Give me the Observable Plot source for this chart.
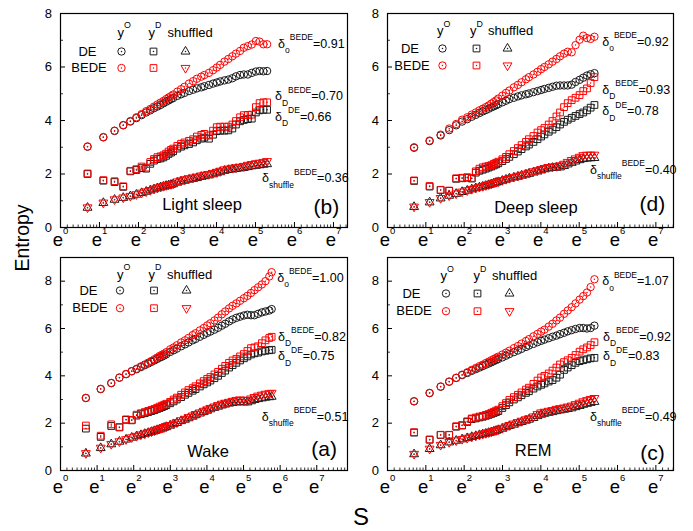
<!DOCTYPE html>
<html><head><meta charset="utf-8">
<script src="https://cdn.jsdelivr.net/npm/d3@7"></script>
<script src="https://cdn.jsdelivr.net/npm/@observablehq/plot@0.6"></script>
<style>
body{margin:0;background:#fff;font-family:"Liberation Sans",Arial,sans-serif;}
#wrap{position:relative;width:693px;height:531px;overflow:hidden;background:#fff;}
#wrap svg{position:absolute;max-width:none;}
.lab{position:absolute;color:#000;white-space:nowrap;line-height:1;}
</style></head><body><div id="wrap"></div>
<script>
// scale s values shared by all panels
const sValues = [2,3,4,5,6,7,8,9,10,11,12,13,14,15,16,17,18,20,22,24,27,30,33,37,40,45,50,55,60,67,74,82,90,100,110,122,135,150,165,182,200,221,245,270,300,320];

// (b) Light sleep
const lightOrigDE   = [3.02,3.37,3.61,3.82,3.96,4.09,4.20,4.30,4.38,4.46,4.52,4.58,4.64,4.70,4.75,4.80,4.84,4.92,4.98,5.03,5.10,5.15,5.20,5.24,5.28,5.33,5.38,5.42,5.46,5.50,5.53,5.58,5.65,5.70,5.72,5.72,5.78,5.83,5.85,5.84,5.85];
const lightOrigBEDE = [3.03,3.38,3.62,3.83,3.98,4.12,4.24,4.35,4.43,4.52,4.60,4.67,4.73,4.80,4.86,4.91,4.97,5.08,5.17,5.26,5.38,5.47,5.56,5.64,5.70,5.78,5.88,5.98,6.08,6.20,6.30,6.40,6.50,6.60,6.72,6.78,6.84,6.97,6.95,6.85,6.85];
const lightDistDE   = [2.00,1.75,1.70,1.52,2.10,2.15,2.22,2.20,2.38,2.50,2.56,2.58,2.62,2.68,2.75,2.80,2.85,2.95,3.02,3.07,3.12,3.18,3.26,3.32,3.36,3.32,3.47,3.60,3.62,3.62,3.63,3.70,3.85,3.97,4.02,4.05,4.07,4.30,4.38,4.40,4.40];
const lightDistBEDE = [2.02,1.77,1.73,1.54,2.12,2.18,2.28,2.24,2.45,2.56,2.63,2.66,2.70,2.76,2.84,2.90,2.95,3.05,3.13,3.18,3.24,3.30,3.40,3.46,3.50,3.44,3.62,3.75,3.77,3.77,3.77,3.85,3.98,4.12,4.20,4.21,4.22,4.50,4.65,4.68,4.68];
const lightShufDE   = [0.74,0.92,1.04,1.11,1.17,1.23,1.29,1.34,1.39,1.43,1.47,1.50,1.53,1.56,1.58,1.60,1.62,1.68,1.72,1.75,1.79,1.82,1.85,1.89,1.92,1.95,1.99,2.03,2.07,2.12,2.15,2.17,2.19,2.21,2.23,2.26,2.29,2.31,2.33,2.35,2.37];
const lightShufBEDE = [0.75,0.93,1.05,1.12,1.18,1.24,1.30,1.35,1.40,1.45,1.49,1.52,1.55,1.58,1.60,1.62,1.64,1.72,1.76,1.80,1.84,1.87,1.90,1.94,1.97,2.00,2.04,2.08,2.12,2.17,2.20,2.23,2.25,2.27,2.30,2.34,2.37,2.40,2.42,2.45,2.48];

// (d) Deep sleep
const deepOrigDE   = [2.98,3.23,3.44,3.64,3.82,3.96,4.05,4.14,4.21,4.28,4.34,4.39,4.44,4.49,4.53,4.57,4.61,4.68,4.74,4.80,4.85,4.90,4.94,4.98,5.01,5.06,5.10,5.14,5.18,5.22,5.26,5.30,5.31,5.31,5.31,5.34,5.44,5.52,5.60,5.68,5.73,5.77];
const deepOrigBEDE = [3.00,3.25,3.47,3.70,3.87,4.03,4.12,4.22,4.30,4.38,4.44,4.50,4.56,4.63,4.69,4.75,4.82,4.93,5.03,5.12,5.24,5.33,5.43,5.54,5.62,5.72,5.82,5.92,6.00,6.10,6.20,6.30,6.40,6.50,6.57,6.55,6.82,7.02,7.17,7.08,7.05,7.13];
const deepDistDE   = [1.74,1.53,1.40,1.37,1.82,1.84,1.86,1.83,2.05,2.12,2.16,2.20,2.24,2.28,2.32,2.36,2.40,2.48,2.56,2.64,2.74,2.84,2.93,3.03,3.10,3.20,3.30,3.40,3.48,3.58,3.66,3.75,3.85,3.95,4.03,4.10,4.17,4.24,4.30,4.38,4.48,4.58];
const deepDistBEDE = [1.76,1.55,1.41,1.38,1.84,1.86,1.88,1.85,2.10,2.20,2.25,2.28,2.30,2.33,2.38,2.42,2.46,2.55,2.64,2.74,2.86,2.97,3.08,3.20,3.30,3.42,3.55,3.64,3.72,3.85,3.98,4.15,4.30,4.50,4.65,4.76,4.85,4.95,5.10,5.20,5.40,5.62];
const deepShufDE   = [0.77,0.94,1.09,1.19,1.26,1.33,1.38,1.43,1.47,1.50,1.53,1.56,1.59,1.62,1.65,1.68,1.70,1.75,1.79,1.83,1.87,1.90,1.94,1.98,2.01,2.06,2.10,2.14,2.18,2.21,2.23,2.24,2.25,2.30,2.36,2.42,2.47,2.52,2.56,2.58,2.59,2.60];
const deepShufBEDE = [0.78,0.95,1.10,1.20,1.27,1.34,1.39,1.44,1.48,1.52,1.55,1.58,1.61,1.64,1.67,1.70,1.72,1.77,1.81,1.85,1.89,1.93,1.97,2.01,2.05,2.10,2.14,2.18,2.22,2.26,2.28,2.30,2.32,2.38,2.45,2.52,2.58,2.64,2.70,2.72,2.72,2.72];

// (a) Wake
const wakeOrigDE   = [3.06,3.44,3.69,3.92,4.07,4.19,4.28,4.37,4.45,4.52,4.59,4.65,4.71,4.77,4.81,4.86,4.91,5.01,5.08,5.15,5.25,5.33,5.41,5.50,5.56,5.65,5.73,5.81,5.87,5.95,6.03,6.12,6.20,6.30,6.38,6.45,6.50,6.55,6.58,6.56,6.56,6.62,6.68,6.72,6.76,6.82];
const wakeOrigBEDE = [3.07,3.45,3.70,3.93,4.08,4.20,4.30,4.40,4.48,4.56,4.63,4.70,4.77,4.84,4.89,4.94,5.00,5.12,5.20,5.29,5.41,5.50,5.60,5.72,5.80,5.92,6.02,6.13,6.22,6.34,6.46,6.60,6.72,6.85,6.96,7.06,7.17,7.28,7.38,7.50,7.62,7.74,7.86,8.00,8.20,8.38];
const wakeDistDE   = [1.77,1.42,1.88,1.82,2.14,2.12,2.32,2.38,2.42,2.47,2.51,2.55,2.60,2.64,2.68,2.72,2.76,2.84,2.92,3.00,3.10,3.20,3.28,3.37,3.44,3.55,3.64,3.72,3.80,3.90,4.00,4.12,4.22,4.35,4.45,4.55,4.65,4.74,4.82,4.90,4.95,4.98,5.03,5.06,5.08,5.10];
const wakeDistBEDE = [1.90,1.47,1.95,1.84,2.16,2.14,2.36,2.42,2.47,2.52,2.56,2.60,2.65,2.70,2.74,2.78,2.82,2.90,3.00,3.08,3.20,3.30,3.40,3.48,3.56,3.68,3.78,3.87,3.95,4.06,4.17,4.30,4.42,4.55,4.65,4.72,4.82,4.92,5.05,5.17,5.20,5.25,5.38,5.50,5.60,5.65];
const wakeShufDE   = [0.72,0.95,1.11,1.22,1.31,1.39,1.45,1.50,1.55,1.59,1.63,1.67,1.71,1.74,1.78,1.81,1.84,1.90,1.96,2.01,2.09,2.15,2.21,2.28,2.34,2.41,2.47,2.53,2.59,2.65,2.70,2.75,2.79,2.83,2.86,2.88,2.89,2.88,2.88,2.93,2.98,3.02,3.05,3.08,3.10,3.12];
const wakeShufBEDE = [0.73,0.96,1.12,1.23,1.32,1.40,1.46,1.52,1.56,1.61,1.65,1.69,1.73,1.76,1.80,1.83,1.86,1.92,1.98,2.04,2.12,2.18,2.25,2.32,2.38,2.45,2.52,2.58,2.64,2.70,2.76,2.82,2.86,2.90,2.94,2.98,3.00,2.98,2.98,3.04,3.10,3.16,3.20,3.24,3.26,3.28];

// (c) REM
const remOrigDE   = [2.92,3.27,3.54,3.75,3.91,4.03,4.12,4.21,4.28,4.35,4.41,4.47,4.52,4.57,4.62,4.67,4.71,4.78,4.85,4.92,5.00,5.07,5.14,5.22,5.28,5.35,5.42,5.48,5.53,5.59,5.65,5.70,5.76,5.82,5.88,5.93,5.98,6.02,6.02,6.00,6.02,6.12];
const remOrigBEDE = [2.93,3.28,3.55,3.76,3.92,4.05,4.15,4.25,4.33,4.41,4.47,4.54,4.60,4.66,4.71,4.76,4.81,4.90,4.98,5.06,5.17,5.26,5.36,5.47,5.55,5.67,5.77,5.87,5.95,6.08,6.20,6.34,6.46,6.62,6.76,6.90,7.06,7.22,7.37,7.52,7.75,8.08];
const remDistDE   = [1.60,1.30,1.50,1.50,1.85,1.90,2.05,2.17,2.20,2.24,2.27,2.31,2.35,2.39,2.43,2.47,2.51,2.64,2.76,2.88,3.00,3.09,3.18,3.28,3.35,3.46,3.55,3.62,3.68,3.76,3.82,3.92,4.05,4.25,4.35,4.45,4.55,4.62,4.66,4.70,4.74,4.76];
const remDistBEDE = [1.62,1.31,1.51,1.51,1.87,1.92,2.08,2.20,2.24,2.28,2.31,2.35,2.39,2.44,2.48,2.53,2.57,2.72,2.85,2.98,3.10,3.20,3.30,3.42,3.50,3.66,3.80,3.93,4.00,4.10,4.22,4.35,4.48,4.58,4.66,4.76,4.88,5.02,5.12,5.20,5.30,5.42];
const remShufDE   = [0.69,0.91,1.07,1.19,1.26,1.32,1.37,1.42,1.46,1.50,1.53,1.56,1.59,1.62,1.65,1.68,1.71,1.77,1.83,1.88,1.94,2.00,2.05,2.11,2.15,2.22,2.30,2.36,2.40,2.44,2.47,2.51,2.54,2.57,2.60,2.63,2.68,2.73,2.78,2.82,2.86,2.90];
const remShufBEDE = [0.70,0.92,1.08,1.20,1.27,1.33,1.38,1.43,1.47,1.51,1.55,1.58,1.61,1.64,1.67,1.70,1.73,1.80,1.86,1.92,1.98,2.04,2.10,2.16,2.20,2.28,2.38,2.45,2.48,2.52,2.55,2.60,2.63,2.66,2.70,2.74,2.80,2.86,2.92,2.97,3.02,3.06];

// tick labels and legend texts
const xTickExps = [0,1,2,3,4,5,6,7];
const yTickLabels = [0,2,4,6,8];
const yMinorTicks = [1,3,5,7];
const legendHeader = ["y|^O","y|^D","shuffled"];
const rowNames = ["DE","BEDE"];

const RED = "#ff0000", BLK = "#1a1a1a";
const FONT = '"Liberation Sans", Arial, sans-serif';

const downTriangle = {
  draw(ctx, size) {
    const s3 = Math.sqrt(3);
    const y = -Math.sqrt(size / (s3 * 3));
    ctx.moveTo(0, -y * 2);
    ctx.lineTo(-s3 * y, y);
    ctx.lineTo(s3 * y, y);
    ctx.closePath();
  }
};

const panels = [
  {name:"Light sleep", letter:"(b)", frame:{L:60,R:347,T:13,B:227}, xmax:7.36, ymax:8, labDy:18,
   series:[lightOrigDE,lightDistDE,lightShufDE,lightOrigBEDE,lightDistBEDE,lightShufBEDE],
   nameAt:{ln:3.63,y:0.64}, letterAt:{ln:6.82,y:0.52},
   lg:{hdr:23,yO:57,yD:88,sh:107,de:27,bede:28.5,r1:38,r2:54.5,c:61,sq:93,tri:125},
   ann:[{ln:5.58,y:6.71,sub:"o",sup:"BEDE",val:"0.91"},{ln:5.5,y:4.75,sub:"D",sup:"BEDE",val:"0.70"},
        {ln:5.5,y:4.0,sub:"D",sup:"DE",val:"0.66"},{ln:5.17,y:1.69,sub:"shuffle",sup:"BEDE",val:"0.36"}]},
  {name:"Deep sleep", letter:"(d)", frame:{L:387,R:673,T:13,B:227}, xmax:7.46, ymax:8, labDy:18,
   series:[deepOrigDE,deepDistDE,deepShufDE,deepOrigBEDE,deepDistBEDE,deepShufBEDE],
   nameAt:{ln:3.87,y:0.56}, letterAt:{ln:6.91,y:0.62},
   lg:{hdr:21.5,yO:49.5,yD:82.5,sh:100.5,de:22.5,bede:24.5,r1:35,r2:52,c:55,sq:89,tri:120},
   ann:[{ln:5.6,y:6.8,sub:"o",sup:"BEDE",val:"0.92"},{ln:5.6,y:5.0,sub:"D",sup:"BEDE",val:"0.93"},
        {ln:5.6,y:4.19,sub:"D",sup:"DE",val:"0.78"},{ln:5.28,y:2.0,sub:"shuffle",sup:"BEDE",val:"0.40"}]},
  {name:"Wake", letter:"(a)", frame:{L:60,R:347,T:257,B:470}, xmax:7.84, ymax:9, labDy:22,
   series:[wakeOrigDE,wakeDistDE,wakeShufDE,wakeOrigBEDE,wakeDistBEDE,wakeShufBEDE],
   nameAt:{ln:4.03,y:0.56}, letterAt:{ln:7.2,y:0.63},
   lg:{hdr:21,yO:56.5,yD:88,sh:106.5,de:28,bede:29.5,r1:33,r2:50.7,c:59.5,sq:93.5,tri:126},
   ann:[{ln:5.92,y:7.96,sub:"o",sup:"BEDE",val:"1.00"},{ln:5.94,y:5.49,sub:"D",sup:"BEDE",val:"0.82"},
        {ln:5.94,y:4.65,sub:"D",sup:"DE",val:"0.75"},{ln:5.5,y:2.11,sub:"shuffle",sup:"BEDE",val:"0.51"}]},
  {name:"REM", letter:"(c)", frame:{L:387,R:673,T:257,B:470}, xmax:7.46, ymax:9, labDy:22,
   series:[remOrigDE,remDistDE,remShufDE,remOrigBEDE,remDistBEDE,remShufBEDE],
   nameAt:{ln:3.8,y:0.63}, letterAt:{ln:6.91,y:0.46},
   lg:{hdr:22.5,yO:53,yD:86,sh:104.5,de:24,bede:26.5,r1:36,r2:53.7,c:58.5,sq:90,tri:122},
   ann:[{ln:5.6,y:7.82,sub:"o",sup:"BEDE",val:"1.07"},{ln:5.62,y:5.49,sub:"D",sup:"BEDE",val:"0.92"},
        {ln:5.62,y:4.65,sub:"D",sup:"DE",val:"0.83"},{ln:5.28,y:2.11,sub:"shuffle",sup:"BEDE",val:"0.49"}]}
];

const symbols = ["circle","square","triangle","circle","square",downTriangle];
const radii = [3.7,3.8,3.3,3.7,3.8,3.3];
const colors = [BLK,BLK,BLK,RED,RED,RED];

function dotMarks(data, opts, symbol, r, color) {
  return [
    Plot.dot(data, {...opts, symbol, r, stroke: color, strokeWidth: 1, fill: "none"}),
    Plot.dot(data, {...opts, r: 0.75, fill: color, stroke: "none"})
  ];
}

// turn "a|_sub|^sup|b" into tspans
function richText(svg) {
  svg.querySelectorAll("text").forEach(t => {
    const s = t.textContent;
    if (!s.includes("|")) return;
    let el = t, base = NaN;
    while (el && el !== svg && isNaN(base)) { base = parseFloat(el.getAttribute("font-size")); el = el.parentNode; }
    if (isNaN(base)) base = 12;
    const big = base >= 17;
    const small = big ? 9.5 : base * 0.68;
    const up = big ? 12 : base * 0.62, down = base * 0.42;
    t.textContent = "";
    let cur = 0;
    for (const tok of s.split("|")) {
      const kind = tok[0] === "_" ? 1 : tok[0] === "^" ? -1 : 0;
      const txt = kind ? tok.slice(1) : tok;
      const target = kind === 1 ? down : kind === -1 ? -up : 0;
      const ts = document.createElementNS("http://www.w3.org/2000/svg", "tspan");
      if (target - cur) ts.setAttribute("dy", target - cur);
      if (kind) ts.setAttribute("font-size", small);
      ts.textContent = txt;
      t.appendChild(ts);
      cur = target;
    }
  });
}

const wrap = document.getElementById("wrap");
for (const p of panels) {
  const {L, R, T, B} = p.frame;
  const W = R - L, H = B - T;
  const mL = 45, mR = 20, mT = 12, mB = 40;
  const marks = [];
  const xy = {x: "s", y: "v"};
  p.series.forEach((arr, k) => {
    const data = arr.map((v, i) => ({s: sValues[i], v}));
    marks.push(...dotMarks(data, xy, symbols[k], radii[k], colors[k]));
  });
  // inward ticks
  const major = xTickExps.filter(k => k <= p.xmax).map(k => Math.exp(k));
  const minor = [];
  for (let k = 0; k < 8; k++) for (let j = 1; j < 9; j++) {
    const v = Math.exp(k) + j * (Math.exp(k + 1) - Math.exp(k)) / 9;
    if (Math.log(v) < p.xmax) minor.push(v);
  }
  marks.push(Plot.tickX(major, {x: d => d, stroke: "black", strokeWidth: 1, insetTop: H - 5}));
  marks.push(Plot.tickX(minor, {x: d => d, stroke: "black", strokeWidth: 0.8, insetTop: H - 2.5}));
  marks.push(Plot.tickY(yTickLabels, {y: d => d, stroke: "black", strokeWidth: 1, insetRight: W - 5}));
  marks.push(Plot.tickY(yMinorTicks, {y: d => d, stroke: "black", strokeWidth: 0.8, insetRight: W - 3}));
  // tick labels
  marks.push(Plot.text(xTickExps, {x: k => Math.exp(k), frameAnchor: "bottom", dy: p.labDy, text: k => `e|^${k}`,
    textAnchor: "middle", lineAnchor: "bottom", fontSize: 18.5}));
  marks.push(Plot.text(yTickLabels, {y: d => d, frameAnchor: "left", dx: -8.5, text: d => String(d),
    textAnchor: "end", lineAnchor: "middle", fontSize: 13}));
  // panel name and letter
  marks.push(Plot.text([p.nameAt], {x: d => Math.exp(d.ln), y: "y", text: () => p.name, textAnchor: "middle", lineAnchor: "bottom", fontSize: 16.5}));
  marks.push(Plot.text([p.letterAt], {x: d => Math.exp(d.ln), y: "y", text: () => p.letter, textAnchor: "middle", lineAnchor: "bottom", fontSize: 21}));
  // delta annotations
  marks.push(Plot.text(p.ann, {x: d => Math.exp(d.ln), y: "y", text: d => `δ|_${d.sub}|^${d.sup}|=${d.val}`,
    textAnchor: "start", lineAnchor: "bottom", fontSize: 12.5}));
  // legend
  const lg = p.lg;
  const fa = {frameAnchor: "top-left"};
  marks.push(Plot.text([legendHeader[0]], {...fa, dx: lg.yO, dy: lg.hdr, text: d => d, textAnchor: "start", lineAnchor: "bottom", fontSize: 13}));
  marks.push(Plot.text([legendHeader[1]], {...fa, dx: lg.yD, dy: lg.hdr, text: d => d, textAnchor: "start", lineAnchor: "bottom", fontSize: 13}));
  marks.push(Plot.text([legendHeader[2]], {...fa, dx: lg.sh, dy: lg.hdr, text: d => d, textAnchor: "start", lineAnchor: "bottom", fontSize: 13}));
  marks.push(Plot.text([rowNames[0]], {...fa, dx: lg.de, dy: lg.r1, text: d => d, textAnchor: "middle", lineAnchor: "middle", fontSize: 13}));
  marks.push(Plot.text([rowNames[1]], {...fa, dx: lg.bede, dy: lg.r2, text: d => d, textAnchor: "middle", lineAnchor: "middle", fontSize: 13}));
  const cols = [lg.c, lg.sq, lg.tri];
  for (let k = 0; k < 6; k++) {
    const dx = cols[k % 3], dy = k < 3 ? lg.r1 : lg.r2;
    marks.push(...dotMarks([0], {...fa, dx, dy}, symbols[k], radii[k], colors[k]));
  }
  marks.push(Plot.frame({stroke: "black", strokeWidth: 1.2}));

  const svg = Plot.plot({
    width: W + mL + mR, height: H + mT + mB,
    marginLeft: mL, marginRight: mR, marginTop: mT, marginBottom: mB,
    x: {type: "log", base: Math.E, domain: [1, Math.exp(p.xmax)], axis: null},
    y: {domain: [0, p.ymax], axis: null},
    style: {background: "transparent", overflow: "visible", fontFamily: FONT, color: "black"},
    marks
  });
  svg.style.left = (L - mL) + "px";
  svg.style.top = (T - mT) + "px";
  richText(svg);
  wrap.appendChild(svg);
}

const ent = document.createElement("div");
ent.className = "lab";
ent.textContent = "Entropy";
ent.style.cssText += "left:23px;top:238px;font-size:19.5px;transform:translate(-50%,-50%) rotate(-90deg);";
wrap.appendChild(ent);
const sl = document.createElement("div");
sl.className = "lab";
sl.textContent = "S";
sl.style.cssText += "left:361px;top:517px;font-size:24px;transform:translate(-50%,-50%);";
wrap.appendChild(sl);
</script></body></html>
